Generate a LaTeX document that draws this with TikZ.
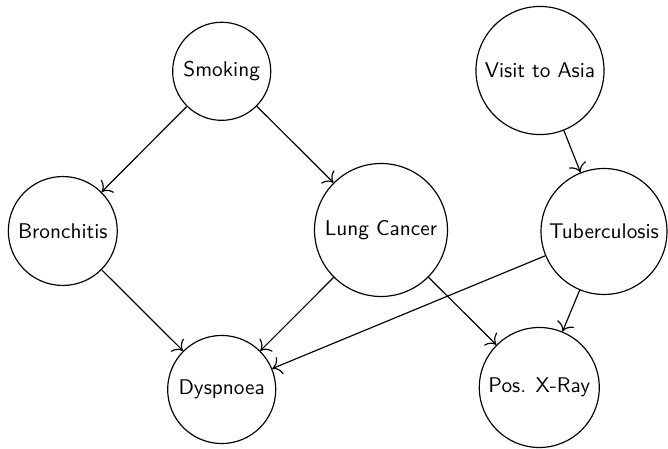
\documentclass[tikz,border=0pt]{standalone}
\usetikzlibrary{arrows.meta}
\begin{document}
\begin{tikzpicture}[x=0.47pt,y=-0.47pt,
  var/.style={circle,draw,line width=0.55pt,inner sep=1pt,font=\sffamily},
  dep/.style={-{To[scale=1.45]},line width=0.55pt}]
\useasboundingbox (0,0) rectangle (668,449);
% variables of the network
\node[var,minimum size=46.1pt] (smoke) at (221.7,71.3)  {Smoking};
\node[var,minimum size=60.2pt] (asia)  at (540,70.5)    {Visit to Asia};
\node[var,minimum size=51.2pt] (bron)  at (62.8,231)    {Bronchitis};
\node[var,minimum size=62.5pt] (lung)  at (381,230)     {Lung Cancer};
\node[var,minimum size=59.2pt] (tub)   at (604,231.5)   {Tuberculosis};
\node[var,minimum size=50.8pt] (dysp)  at (221.7,389.5) {Dyspnoea};
\node[var,minimum size=56.4pt] (xray)  at (539.3,387.5) {Pos. X-Ray};
% dependencies
\draw[dep] (smoke) -- (bron);
\draw[dep] (smoke) -- (lung);
\draw[dep] (asia)  -- (tub);
\draw[dep] (bron)  -- (dysp);
\draw[dep] (lung)  -- (dysp);
\draw[dep] (lung)  -- (xray);
\draw[dep] (tub)   -- (dysp);
\draw[dep] (tub)   -- (xray);
\end{tikzpicture}
\end{document}
